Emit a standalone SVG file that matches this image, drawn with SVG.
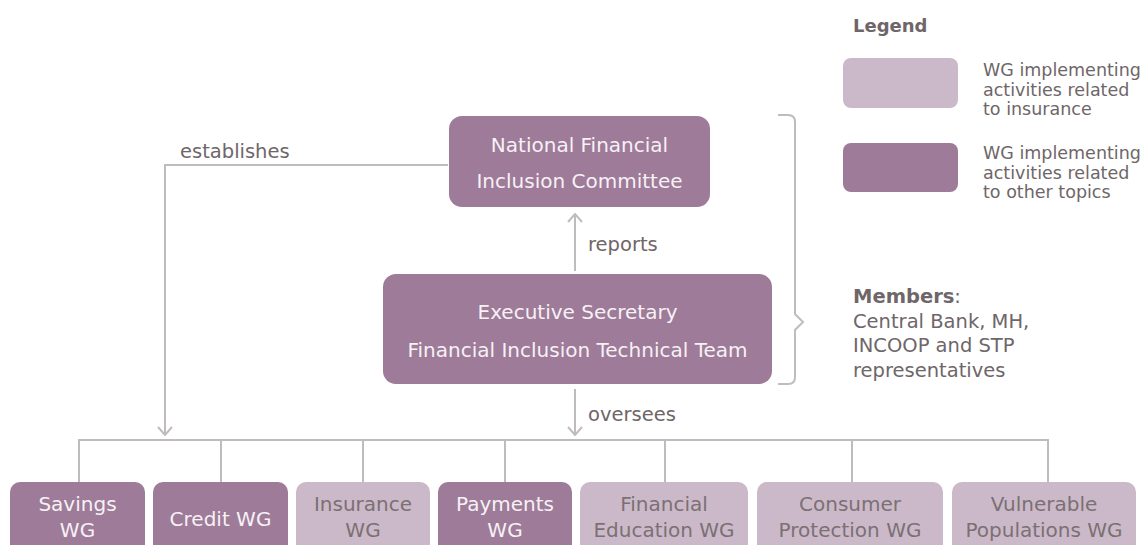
<svg xmlns="http://www.w3.org/2000/svg" width="1144" height="545" viewBox="0 0 1144 545">
<defs>
<style>
.dark{fill:#9e7b99}
.light{fill:#cbb9c9}
.t{font-family:"DejaVu Sans","Noto Sans",sans-serif;font-size:20px;text-anchor:middle}
.tw{fill:#f6f1f5}
.tg{fill:#7b7073}
.lbl{font-family:"DejaVu Sans","Noto Sans",sans-serif;font-size:19.5px;fill:#6e6668}
.leg{font-family:"DejaVu Sans","Noto Sans",sans-serif;font-size:17.5px;fill:#6e6668}
.mem{font-family:"DejaVu Sans","Noto Sans",sans-serif;font-size:19.5px;fill:#6e6668}
.b{font-weight:bold}
.ln{fill:none;stroke:#c0bcbd;stroke-width:2}
</style>
<marker id="arr" viewBox="0 0 10 16" refX="9" refY="8" markerWidth="10" markerHeight="16" markerUnits="userSpaceOnUse" orient="auto">
<path d="M1 1 L9 8 L1 15" fill="none" stroke="#c0bcbd" stroke-width="2"/>
</marker>
</defs>
<rect width="1144" height="545" fill="#ffffff"/>

<g id="connectors">
<path class="ln" d="M448 165 H165 V435" marker-end="url(#arr)"/>
<path class="ln" d="M575 271 V214" marker-end="url(#arr)"/>
<path class="ln" d="M575 389 V435" marker-end="url(#arr)"/>
<path class="ln" d="M79 482 V440 H1048 V482"/>
<path class="ln" d="M221 440 V482 M363 440 V482 M505 440 V482 M665 440 V482 M852 440 V482"/>
<path class="ln" d="M778 115 H788 Q795 115 795 122 V314 L803 322 L795 330 V377 Q795 384 788 384 H778"/>
<text class="lbl" x="180" y="158">establishes</text>
<text class="lbl" x="588" y="251">reports</text>
<text class="lbl" x="588" y="421">oversees</text>
</g>

<g id="nfic">
<rect class="dark" x="449" y="116" width="261" height="91" rx="13"/>
<text class="t tw" x="579.5" y="152">National Financial</text>
<text class="t tw" x="579.5" y="188">Inclusion Committee</text>
</g>

<g id="exec">
<rect class="dark" x="383" y="274" width="389" height="110" rx="13"/>
<text class="t tw" x="577.5" y="319">Executive Secretary</text>
<text class="t tw" x="577.5" y="357">Financial Inclusion Technical Team</text>
</g>

<g id="members">
<text class="mem b" x="853" y="303">Members<tspan font-weight="normal">:</tspan></text>
<text class="mem" x="853" y="328">Central Bank, MH,</text>
<text class="mem" x="853" y="352">INCOOP and STP</text>
<text class="mem" x="853" y="377">representatives</text>
</g>

<g id="legend">
<text class="leg b" x="853" y="32" style="font-size:18px">Legend</text>
<rect class="light" x="843" y="58" width="115" height="50" rx="8"/>
<text class="leg" x="983" y="76">WG implementing</text>
<text class="leg" x="983" y="95.5">activities related</text>
<text class="leg" x="983" y="115">to insurance</text>
<rect class="dark" x="843" y="143" width="115" height="49" rx="8"/>
<text class="leg" x="983" y="159">WG implementing</text>
<text class="leg" x="983" y="178.5">activities related</text>
<text class="leg" x="983" y="198">to other topics</text>
</g>

<g id="savings">
<rect class="dark" x="10" y="482" width="135" height="80" rx="10"/>
<text class="t tw" x="77.5" y="511">Savings</text>
<text class="t tw" x="77.5" y="537">WG</text>
</g>
<g id="credit">
<rect class="dark" x="153" y="482" width="135" height="80" rx="10"/>
<text class="t tw" x="220.5" y="526">Credit WG</text>
</g>
<g id="insurance">
<rect class="light" x="296" y="482" width="134" height="80" rx="10"/>
<text class="t tg" x="363" y="511">Insurance</text>
<text class="t tg" x="363" y="537">WG</text>
</g>
<g id="payments">
<rect class="dark" x="438" y="482" width="134" height="80" rx="10"/>
<text class="t tw" x="505" y="511">Payments</text>
<text class="t tw" x="505" y="537">WG</text>
</g>
<g id="fined">
<rect class="light" x="580" y="482" width="168" height="80" rx="10"/>
<text class="t tg" x="664" y="511">Financial</text>
<text class="t tg" x="664" y="537">Education WG</text>
</g>
<g id="consumer">
<rect class="light" x="757" y="482" width="186" height="80" rx="10"/>
<text class="t tg" x="850" y="511">Consumer</text>
<text class="t tg" x="850" y="537">Protection WG</text>
</g>
<g id="vulnerable">
<rect class="light" x="952" y="482" width="184" height="80" rx="10"/>
<text class="t tg" x="1044" y="511">Vulnerable</text>
<text class="t tg" x="1044" y="537">Populations WG</text>
</g>
</svg>
